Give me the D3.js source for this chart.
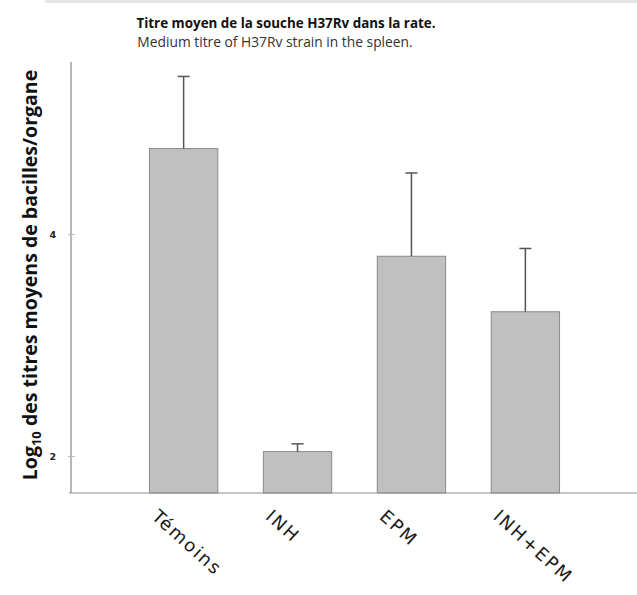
<!DOCTYPE html>
<html>
<head>
<meta charset="utf-8">
<script src="https://cdn.jsdelivr.net/npm/d3@7"></script>
<style>
  body { margin: 0; background: #fff; }
  svg { display: block; }
</style>
</head>
<body>
<div id="chart"></div>
<script>
	// data (log10 titres)
	var categories = ["Témoins", "INH", "EPM", "INH+EPM"];
	var means = [4.77, 2.04, 3.80, 3.30];
	var errors = [0.65, 0.07, 0.75, 0.57];
	var yTicks = [2, 4];

	var pageWidth = 637;
	var pageHeight = 595;

	var svg = d3.select('#chart')
		.append('svg')
		.attr('width', pageWidth)
		.attr('height', pageHeight);

	// grey strip at top
	svg.append('rect')
		.attr('x', 45)
		.attr('y', 0)
		.attr('width', pageWidth - 45)
		.attr('height', 3)
		.attr('fill', '#e4e4e4');

	var xScale = d3.scaleBand()
		.domain(categories)
		.range([72, 637])
		.paddingInner(0.4)
		.paddingOuter(0.68);

	var yScale = d3.scaleLinear()
		.domain([1.667, 5.55])
		.range([493, 62]);

	var baseY = yScale(yScale.domain()[0]);

	// title
	svg.append('text')
		.attr('x', 286)
		.attr('y', 28)
		.attr('text-anchor', 'middle')
		.attr('font-family', 'Open Sans')
		.attr('font-weight', 'bold')
		.attr('font-size', 13.4)
		.attr('fill', '#111')
		.text('Titre moyen de la souche H37Rv dans la rate.');

	svg.append('text')
		.attr('x', 275)
		.attr('y', 47)
		.attr('text-anchor', 'middle')
		.attr('font-family', 'Open Sans')
		.attr('font-size', 13.8)
		.attr('fill', '#333')
		.text('Medium titre of H37Rv strain in the spleen.');

	// y label
	var yLabel = svg.append('text')
		.attr('transform', 'translate(37, 275) rotate(-90)')
		.attr('text-anchor', 'middle')
		.attr('font-family', 'Open Sans')
		.attr('font-weight', 'bold')
		.attr('font-size', 19.5)
		.attr('fill', '#111');
	yLabel.append('tspan').text('Log');
	yLabel.append('tspan').attr('font-size', 13).attr('dy', 4).text('10');
	yLabel.append('tspan').attr('dy', -4).text(' des titres moyens de bacilles/organe');

	// bars
	svg.selectAll('.bar')
		.data(means)
		.enter()
		.append('rect')
			.attr('class', 'bar')
			.attr('x', function(d, i){ return xScale(categories[i]) })
			.attr('y', function(d){ return yScale(d) })
			.attr('width', xScale.bandwidth())
			.attr('height', function(d){ return baseY - yScale(d) })
			.attr('fill', '#c0c0c0')
			.attr('stroke', '#8a8a8a')
			.attr('stroke-width', 1);

	// error bars (upper only)
	var errG = svg.append('g').attr('class', 'errors');
	means.forEach(function(d, i){
		var cx = xScale(categories[i]) + xScale.bandwidth() / 2;
		errG.append('line')
			.attr('x1', cx).attr('x2', cx)
			.attr('y1', yScale(d))
			.attr('y2', yScale(d + errors[i]))
			.attr('stroke', '#555')
			.attr('stroke-width', 1.5);
		errG.append('line')
			.attr('x1', cx - 6).attr('x2', cx + 6)
			.attr('y1', yScale(d + errors[i]))
			.attr('y2', yScale(d + errors[i]))
			.attr('stroke', '#555')
			.attr('stroke-width', 1.5);
	});

	// axes
	svg.append('line')
		.attr('x1', 71).attr('x2', 71)
		.attr('y1', yScale.range()[1]).attr('y2', baseY)
		.attr('stroke', '#a0a0a0')
		.attr('stroke-width', 1.5);

	svg.append('line')
		.attr('x1', 69).attr('x2', pageWidth)
		.attr('y1', baseY).attr('y2', baseY)
		.attr('stroke', '#909090')
		.attr('stroke-width', 1.2);

	var yAxis = d3.axisLeft(yScale)
		.tickValues(yTicks)
		.tickSize(4)
		.tickFormat(d3.format('d'));

	var yAxisG = svg.append('g')
		.attr('transform', 'translate(71, 0)')
		.call(yAxis);
	yAxisG.select('.domain').remove();
	yAxisG.selectAll('.tick line').attr('stroke', '#bbb').attr('x2', 4).attr('x1', -3);
	yAxisG.selectAll('.tick text')
		.attr('x', -15)
		.attr('font-family', 'DejaVu Sans')
		.attr('font-weight', 'bold')
		.attr('font-size', 9.5)
		.attr('fill', '#222');

	// category labels
	svg.selectAll('.cat')
		.data(categories)
		.enter()
		.append('text')
			.attr('class', 'cat')
			.attr('transform', function(d){
				var cx = xScale(d) + xScale.bandwidth() / 2;
				return 'translate(' + (cx - 33) + ',' + 518 + ') rotate(42)';
			})
			.attr('text-anchor', 'start')
			.attr('font-family', 'DejaVu Sans')
			.attr('font-size', 18)
			.attr('letter-spacing', 2)
			.attr('fill', '#1a1a1a')
			.text(function(d){ return d });
</script>
</body>
</html>
